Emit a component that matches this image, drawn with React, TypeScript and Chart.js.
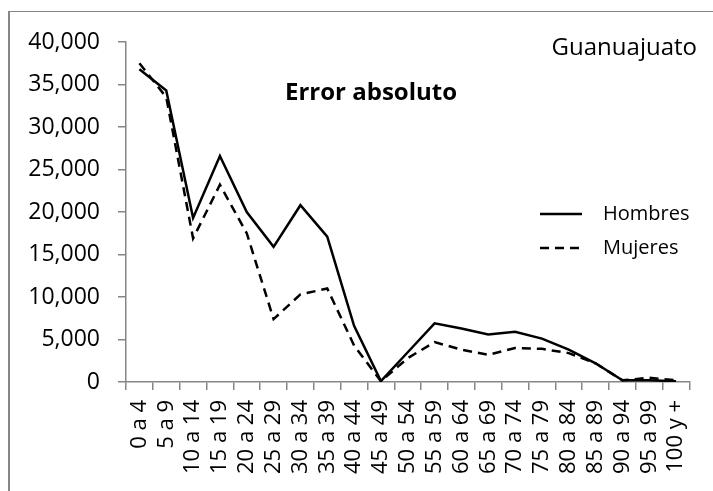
import React, { useEffect, useRef } from "react";
import { Chart, registerables } from "chart.js";

Chart.register(...registerables);

const categories = ["0 a 4", "5 a 9", "10 a 14", "15 a 19", "20 a 24", "25 a 29", "30 a 34", "35 a 39", "40 a 44", "45 a 49", "50 a 54", "55 a 59", "60 a 64", "65 a 69", "70 a 74", "75 a 79", "80 a 84", "85 a 89", "90 a 94", "95 a 99", "100 y +"];
const hombres = [36800, 34300, 19300, 26600, 20000, 15900, 20800, 17100, 6600, 100, 3500, 6900, 6300, 5600, 5900, 5100, 3800, 2200, 200, 200, 100];
const mujeres = [37500, 33500, 16900, 23200, 17500, 7400, 10300, 11000, 4300, 100, 2800, 4700, 3800, 3200, 4000, 3900, 3400, 2200, 200, 500, 200];
const yTicks = [0, 5000, 10000, 15000, 20000, 25000, 30000, 35000, 40000];

const FONT = "'Open Sans', sans-serif";
const AXIS = "#868686";

const textPlugin = {
  id: "texts",
  afterDraw(chart: any) {
    const ctx = chart.ctx;
    ctx.save();
    ctx.fillStyle = "#000";
    ctx.textBaseline = "middle";
    ctx.textAlign = "center";
    ctx.font = `bold 24px ${FONT}`;
    ctx.fillText("Error absoluto", 371, 93);
    ctx.font = `24px ${FONT}`;
    ctx.textAlign = "right";
    ctx.fillText("Guanuajuato", 697, 48);
    // legend
    const items = [
      { label: "Hombres", dash: [] as number[], y: 214 },
      { label: "Mujeres", dash: [9, 6], y: 248 },
    ];
    ctx.font = `20px ${FONT}`;
    ctx.textAlign = "left";
    for (const it of items) {
      ctx.beginPath();
      ctx.setLineDash(it.dash);
      ctx.lineWidth = 2.5;
      ctx.strokeStyle = "#000";
      ctx.moveTo(540, it.y);
      ctx.lineTo(582, it.y);
      ctx.stroke();
      ctx.setLineDash([]);
      ctx.fillText(it.label, 603, it.y);
    }
    ctx.restore();
  },
};

export default function App() {
  const ref = useRef<HTMLCanvasElement>(null);
  useEffect(() => {
    const chart = new Chart(ref.current!, {
      type: "line",
      data: {
        labels: categories,
        datasets: [
          { label: "Hombres", data: hombres, borderColor: "#000", borderWidth: 2.5, pointRadius: 0, tension: 0, fill: false },
          { label: "Mujeres", data: mujeres, borderColor: "#000", borderWidth: 2.5, borderDash: [9, 6], pointRadius: 0, tension: 0, fill: false },
        ],
      },
      options: {
        animation: false,
        responsive: false,
        layout: { padding: { left: 0, top: 42, right: 22, bottom: 0 } },
        plugins: { legend: { display: false }, tooltip: { enabled: false }, title: { display: false } },
        scales: {
          x: {
            offset: true,
            grid: { offset: true, drawOnChartArea: false, drawTicks: true, tickLength: 8, color: AXIS, lineWidth: 1.5 },
            border: { color: AXIS, width: 1.5 },
            ticks: { color: "#000", font: { family: FONT, size: 22 }, minRotation: 90, maxRotation: 90, padding: 10, autoSkip: false },
            afterFit: (s: any) => { s.height = 491 - 382; },
          },
          y: {
            min: 0,
            max: 40000,
            afterBuildTicks: (s: any) => { s.ticks = yTicks.map((v) => ({ value: v })); },
            grid: { drawOnChartArea: false, drawTicks: true, tickLength: 8, color: AXIS, lineWidth: 1.5 },
            border: { color: AXIS, width: 1.5 },
            ticks: { color: "#000", font: { family: FONT, size: 23 }, padding: 18, callback: (v: any) => Number(v).toLocaleString("en-US") },
            afterFit: (s: any) => { s.width = 126; },
          },
        },
      },
      plugins: [textPlugin],
    });
    return () => chart.destroy();
  }, []);
  return (
    <div style={{ position: "absolute", left: 0, top: 0, width: 713, height: 491, overflow: "hidden", background: "#fff" }}>
      <div style={{ position: "absolute", left: 8, top: 11, width: 720, height: 500, borderLeft: `2px solid ${AXIS}`, borderTop: `1.5px solid ${AXIS}` }} />
      <canvas ref={ref} width={713} height={491} style={{ position: "absolute", left: 0, top: 0 }} />
    </div>
  );
}
